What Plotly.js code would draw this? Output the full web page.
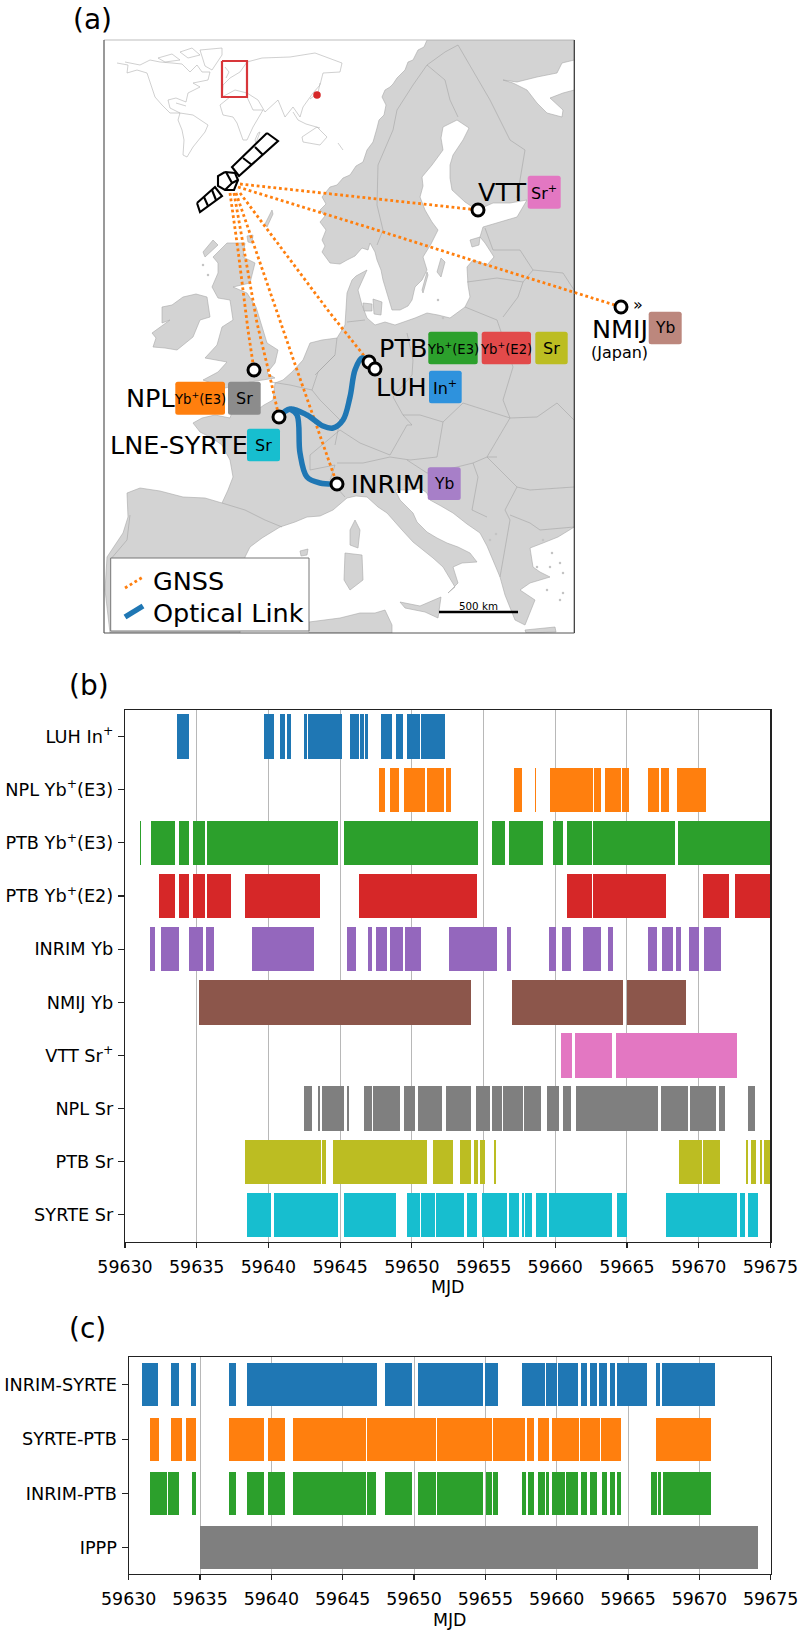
<!DOCTYPE html>
<html><head><meta charset="utf-8">
<script src="https://cdn.plot.ly/plotly-3.0.1.min.js"></script>
<style>html,body{margin:0;padding:0;background:#fff}#c{width:800px;height:1635px}</style>
</head><body><div id="c"></div>
<script>
const MJD0 = 59630;
const xTicks = [59630,59635,59640,59645,59650,59655,59660,59665,59670,59675];
const clockNames = ['LUH In<sup>+</sup>','NPL Yb<sup>+</sup>(E3)','PTB Yb<sup>+</sup>(E3)','PTB Yb<sup>+</sup>(E2)','INRIM Yb','NMIJ Yb','VTT Sr<sup>+</sup>','NPL Sr','PTB Sr','SYRTE Sr'];
const clockColors = ['#1f77b4','#ff7f0e','#2ca02c','#d62728','#9467bd','#8c564b','#e377c2','#7f7f7f','#bcbd22','#17becf'];
// uptime intervals, days after MJD 59630
const luhIn = [[3.65,4.25],[4.28,4.49],[9.71,10.39],[10.83,11.18],[11.29,11.60],[12.46,12.69],[12.76,15.13],[15.71,16.29],[16.38,16.66],[16.73,16.96],[17.85,18.64],[18.92,19.41],[19.66,20.59],[20.63,22.31]];
const nplYb = [[17.73,18.13],[18.48,19.10],[19.45,20.92],[21.03,22.22],[22.40,22.75],[27.10,27.66],[28.56,28.66],[29.63,32.65],[32.70,33.19],[33.47,34.56],[34.65,35.12],[36.49,37.21],[37.39,37.93],[38.49,40.48]];
const ptbYbE3 = [[1.02,1.12],[1.84,3.46],[3.74,4.48],[4.74,5.58],[5.74,14.85],[15.29,24.635],[25.56,26.47],[26.77,29.12],[29.84,30.56],[30.84,32.58],[32.63,38.35],[38.58,45]];
const ptbYbE2 = [[2.39,3.46],[3.74,4.48],[4.74,5.58],[5.74,7.39],[8.37,13.60],[16.29,24.57],[30.84,32.58],[32.65,37.74],[40.30,42.09],[42.55,45]];
const inrimYb = [[1.74,2.09],[2.49,3.76],[4.49,5.46],[5.62,6.20],[8.83,13.18],[15.45,16.13],[16.94,17.22],[17.48,18.29],[18.48,19.41],[19.50,20.66],[22.57,25.94],[26.61,26.91],[29.56,30.05],[30.49,31.12],[31.96,33.21],[33.68,34.00],[36.49,37.11],[37.46,38.23],[38.39,38.74],[39.35,40.02],[40.39,41.55]];
const nmijYb = [[5.14,24.12],[27.00,34.74],[35.02,39.14]];
const vttSr = [[30.37,31.19],[31.40,33.95],[34.21,42.65]];
const nplSr = [[12.46,13.06],[13.48,13.60],[13.73,15.25],[15.45,15.59],[16.66,17.22],[17.29,19.20],[19.47,20.20],[20.40,22.12],[22.40,24.15],[24.47,25.47],[25.59,26.29],[26.38,27.73],[27.82,29.03],[29.45,30.28],[30.51,31.07],[31.42,37.14],[37.37,39.28],[39.39,41.20],[41.39,41.81],[43.46,43.90]];
const ptbSr = [[8.37,13.68],[13.74,14.03],[14.53,21.05],[21.46,22.86],[23.36,24.13],[24.36,24.60],[24.77,25.12],[25.74,25.86],[38.63,40.21],[40.30,41.47],[43.29,43.44],[43.67,43.97],[44.26,44.44],[44.55,45]];
const syrteSr = [[8.54,10.21],[10.39,14.85],[15.29,17.26],[17.29,18.87],[19.67,20.19],[20.25,20.58],[20.63,21.60],[21.66,23.66],[23.83,24.57],[24.86,26.62],[26.74,27.44],[27.68,27.80],[27.88,28.38],[28.65,29.41],[29.53,33.99],[34.28,35.02],[37.75,42.65],[42.85,43.21],[43.47,44.12]];
const clockIntervals = [luhIn,nplYb,ptbYbE3,ptbYbE2,inrimYb,nmijYb,vttSr,nplSr,ptbSr,syrteSr];

const linkNames = ['INRIM-SYRTE','SYRTE-PTB','INRIM-PTB','IPPP'];
const linkColors = ['#1f77b4','#ff7f0e','#2ca02c','#7f7f7f'];
const inrimSyrte = [[0.94,2.06],[2.98,3.54],[4.36,4.75],[7.02,7.49],[8.29,17.40],[17.96,19.88],[20.26,24.83],[24.98,25.92],[27.57,29.20],[29.25,30.02],[30.08,31.47],[31.67,32.09],[32.32,32.82],[32.94,33.56],[33.71,34.06],[34.24,36.33],[36.95,37.25],[37.36,41.08]];
const syrtePtb = [[1.50,2.09],[2.98,3.77],[4.04,4.75],[7.02,9.47],[9.76,10.97],[11.53,16.63],[16.69,17.72],[17.75,21.53],[21.62,25.48],[25.51,27.81],[27.93,28.40],[28.66,29.46],[29.67,31.55],[31.61,33.03],[33.12,34.53],[36.95,40.84]];
const inrimPtb = [[1.50,2.65],[2.74,3.54],[4.42,4.75],[7.02,7.49],[8.26,9.47],[9.73,10.97],[11.53,16.63],[16.69,17.34],[17.96,19.88],[20.26,21.53],[21.62,24.83],[25.01,25.48],[25.54,25.92],[27.57,27.87],[27.96,28.40],[28.66,29.19],[29.25,29.46],[29.64,30.61],[30.67,31.47],[31.67,32.09],[32.32,32.85],[33.15,33.56],[33.74,34.06],[34.24,34.53],[36.63,37.04],[37.13,37.34],[37.43,40.84]];
const ippp = [[5.0,44.09]];
const linkIntervals = [inrimSyrte,syrtePtb,inrimPtb,ippp];

// map outlines, in map units
const mainland = [[427,40],[424,47],[418,50],[413,60],[408,62],[405,70],[397,78],[393,84],[390,87],[385,90],[382,97],[386,105],[384,115],[379,120],[377,128],[375,136],[373,142],[367,150],[363,162],[356,166],[350,175],[343,178],[337,185],[330,187],[322,197],[326,204],[320,210],[325,216],[320,222],[326,230],[322,240],[325,246],[322,252],[330,263],[340,264],[347,260],[355,256],[362,248],[368,250],[370,243],[375,252],[377,260],[381,270],[383,280],[386,290],[388,297],[392,310],[400,310],[408,306],[412,300],[415,287],[422,280],[427,270],[423,257],[431,244],[438,230],[432,222],[425,210],[420,197],[423,186],[422,177],[432,165],[443,150],[441,138],[443,127],[457,120],[469,128],[463,140],[453,155],[450,165],[450,178],[452,190],[465,202],[477,210],[493,203],[510,203],[527,200],[517,217],[500,222],[483,227],[480,237],[485,243],[494,257],[487,265],[473,260],[467,267],[468,285],[470,297],[465,307],[450,318],[438,315],[427,313],[415,318],[403,322],[395,325],[385,322],[375,325],[367,318],[362,305],[358,290],[367,270],[356,276],[352,280],[347,293],[346,310],[345,325],[337,338],[322,340],[310,343],[306,352],[303,360],[292,372],[283,380],[275,383],[273,400],[264,405],[257,410],[245,410],[232,412],[230,418],[215,415],[202,418],[193,423],[200,432],[212,438],[222,445],[230,460],[233,477],[228,490],[222,503],[205,498],[183,497],[160,491],[140,488],[127,493],[128,517],[123,533],[115,545],[107,557],[105,590],[110,633],[240,633],[245,557],[250,547],[262,538],[280,527],[295,522],[307,517],[320,516],[333,510],[347,498],[356,496],[367,497],[378,507],[387,513],[402,530],[413,542],[423,550],[433,558],[443,567],[455,587],[448,593],[458,583],[453,567],[462,563],[477,562],[470,553],[458,547],[447,543],[437,538],[427,532],[417,522],[413,513],[400,500],[395,490],[410,490],[420,488],[427,493],[430,500],[441,506],[453,513],[467,524],[480,533],[487,546],[493,560],[500,577],[505,595],[515,620],[525,625],[535,600],[520,590],[530,583],[550,577],[540,572],[533,567],[530,548],[543,543],[558,537],[574.3,527],[574.3,40]];
const whiteSea = [[503,80],[517,82],[537,77],[557,73],[562,63],[574.3,60],[574.3,90],[563,93],[550,98],[563,110],[562,117],[547,113],[537,103],[527,90],[513,83]];
const greatBritain = [[227,243],[245,243],[243,257],[255,263],[250,283],[233,287],[247,293],[256,307],[260,320],[267,343],[278,350],[275,363],[267,373],[275,378],[250,382],[225,388],[203,380],[218,372],[227,362],[205,358],[217,345],[222,327],[233,320],[230,300],[218,298],[212,287],[218,273],[218,263],[213,257],[220,250]];
const ireland = [[162,307],[172,305],[183,297],[196,294],[207,297],[210,317],[200,320],[193,337],[177,350],[165,348],[153,347],[156,338],[152,333],[162,326],[170,320],[162,323]];
const corsica = [[355,520],[360,530],[358,548],[350,545],[350,530]];
const sardinia = [[345,553],[362,555],[363,580],[350,590],[344,580]];
const sicily = [[400,602],[420,606],[441,597],[438,618],[425,612],[405,608]];
const northAfrica = [[309,622],[340,618],[360,613],[375,613],[385,610],[392,625],[392,633],[309,633]];
const funen = [[363,303],[372,304],[372,311],[364,311]];
const zealand = [[373,299],[382,302],[381,315],[374,314]];
const gotland = [[441,258],[445,262],[441,277],[437,272]];
const oland = [[427,272],[428,275],[423,293],[422,290]];
const saaremaa = [[470,240],[480,237],[479,245],[472,247]];
const shetland = [[272,210],[273,214],[267,227],[265,224]];
const orkney = [[247,236],[253,235],[252,243],[248,242]];
const hebrides = [[213,240],[218,245],[205,257],[203,252]];
const mallorca = [[300,551],[308,549],[307,555],[301,556]];
const crete = [[525,630],[555,627],[556,632],[526,633]];
const landParts = [mainland,greatBritain,ireland,corsica,sardinia,sicily,northAfrica,funen,zealand,gotland,oland,saaremaa,shetland,orkney,hebrides,mallorca,crete];
const smallIslands = [[543,540],[552,553],[560,563],[563,573],[550,567],[537,567],[547,590],[563,593],[560,600],[443,318],[438,300],[203,265],[208,275],[496,534],[490,540]];
const borders = [
 [[427,65],[413,85],[397,110],[393,130],[378,165],[377,205],[383,230],[377,245]],
 [[427,65],[445,80],[450,100],[458,117]],[[427,65],[445,52],[458,45]],
 [[458,45],[475,75],[490,100],[510,140],[525,150],[520,180],[517,198]],
 [[485,228],[493,250],[520,250],[533,270],[523,282]],[[467,282],[497,278],[523,282],[518,297],[503,317]],
 [[533,270],[563,273],[574,290]],[[465,307],[497,320],[513,367],[503,400],[510,418]],
 [[407,333],[413,360],[412,375],[393,397],[403,415],[420,415],[443,422],[463,403],[510,418]],
 [[510,418],[537,417],[557,403],[574,420]],[[510,418],[503,430],[490,453],[487,457]],
 [[443,422],[437,457]],[[403,415],[412,425],[407,425],[390,455],[360,443]],
 [[337,463],[363,463],[390,457],[410,460],[437,457]],[[407,460],[427,473],[457,467],[473,463],[487,457],[497,457]],
 [[487,457],[517,487],[530,490],[574,487]],[[473,463],[478,477],[472,510],[487,517]],[[517,487],[505,510],[510,520],[500,577]],
 [[510,515],[530,523],[540,530],[574,527]],[[271,382],[290,385],[312,390],[320,400],[340,420],[335,445]],
 [[340,430],[310,455],[310,470],[335,465],[330,480],[345,497]],[[360,443],[340,430]],[[222,503],[245,510],[265,520],[282,527]],
 [[130,515],[127,540],[110,560]],[[337,338],[335,355],[315,375]],[[347,322],[365,320]],[[312,390],[318,372],[335,355]]];
// world inset outlines
const insetNorthAmerica = [[117,63],[128,65],[127,73],[137,70],[147,73],[152,87],[155,97],[162,105],[170,113],[180,113],[170,108],[168,100],[176,98],[186,102],[188,93],[200,87],[193,83],[208,80],[210,72],[202,72],[197,65],[190,72],[182,64],[172,63],[160,62],[150,60],[140,65],[125,62]];
const insetArctic = [[158,58],[172,54],[180,60],[165,62],[158,58]];
const insetArctic2 = [[180,52],[192,48],[200,55],[188,58],[180,52]];
const insetGreenland = [[200,50],[222,48],[222,55],[212,70],[205,66],[200,50]];
const insetCuba = [[176,103],[186,106]];
const insetSouthAmerica = [[180,113],[193,115],[208,125],[205,132],[193,147],[187,157],[183,155],[184,140],[182,130],[178,120],[180,113]];
const insetAfrica = [[220,105],[230,97],[247,97],[253,110],[263,110],[253,127],[247,140],[243,140],[237,123],[233,117],[223,115],[220,105]];
const insetEurasia = [[222,97],[223,85],[230,78],[240,72],[247,62],[262,58],[290,57],[315,53],[342,63],[340,72],[323,73],[320,85],[313,93],[303,107],[300,117],[293,107],[285,117],[278,100],[265,112],[258,100],[247,93],[235,90],[222,97]];
const insetAustralia = [[302,137],[317,127],[327,137],[320,145],[303,142],[302,137]];
const insetJapan = [[320,83],[318,93],[310,99]];
const insetIndonesia = [[293,112],[298,120],[306,124],[320,128]];
const insetMadagascar = [[258,133],[260,132],[256,143],[255,140],[258,133]];
const insetUK = [[225,67],[229,72],[226,78]];
const insetNewZealand = [[338,143],[343,150]];
const insetLines = [insetNorthAmerica,insetArctic,insetArctic2,insetGreenland,insetCuba,insetSouthAmerica,insetAfrica,insetEurasia,insetAustralia,insetJapan,insetIndonesia,insetMadagascar,insetUK,insetNewZealand];

// GNSS links and fibre route
const gnssVtt = [[240,184],[323,193],[420,203],[478,210]];
const gnssNmij = [[238,187],[320,212],[380,231],[487,265],[573,292],[621,307]];
const gnssNpl = [[230,193],[238,250],[248,330],[254,370]];
const gnssSyrte = [[234,193],[257,323],[270,377],[279,417]];
const gnssInrim = [[236,193],[282,327],[297,370],[337,484]];
const gnssPtb = [[240,193],[330,313],[369,362]];
const gnssLinks = [gnssVtt,gnssNmij,gnssNpl,gnssSyrte,gnssInrim,gnssPtb];
const fibreNorth = [[279,417],[290,409],[307,415],[323,426],[333,428],[343,420],[350,397],[355,370],[362,358],[369,362]];
const fibreSouth = [[290,409],[297,415],[300,453],[307,477],[320,483],[337,484]];
const siteMarkers = [[254,370],[279,417],[337,484],[369,362],[375,369],[478,210],[621,307]];
// satellite glyph
const satUpper = [[267,133],[278,141],[239,176],[232,167],[267,133]];
const satUpperRibs = [[[255,147],[263,155]],[[243,158],[252,165]]];
const satLower = [[197,203],[215,187],[222,196],[200,212],[197,203]];
const satLowerRibs = [[[204,197],[208,206]],[[212,190],[216,200]]];
const satBody = [[225,172],[235,173],[238,180],[234,190],[225,190],[218,186],[218,176],[225,172]];
const satBodyInner = [[226,172],[232,183],[238,180],[232,183],[225,190]];

const px = (v)=>v.map(p=>p[0]), py=(v)=>v.map(p=>p[1]);
const W=800,H=1635;
const dx=(a,b)=>[a/W,b/W], dy=(top,bot)=>[1-bot/H,1-top/H];
const traces=[];
// map
landParts.forEach(p=>{const q=p.concat([p[0]]);traces.push({type:'scatter',mode:'lines',x:px(q),y:py(q),fill:'toself',fillcolor:'#d3d3d3',line:{color:'#a8a8a8',width:0.6},xaxis:'x',yaxis:'y',hoverinfo:'skip'});});
{const q=whiteSea.concat([whiteSea[0]]);traces.push({type:'scatter',mode:'lines',x:px(q),y:py(q),fill:'toself',fillcolor:'#fff',line:{color:'#a8a8a8',width:0.6},xaxis:'x',yaxis:'y',hoverinfo:'skip'});}
traces.push({type:'scatter',mode:'markers',x:px(smallIslands),y:py(smallIslands),marker:{color:'#c4c4c4',size:2.5},xaxis:'x',yaxis:'y',hoverinfo:'skip'});
borders.forEach(p=>traces.push({type:'scatter',mode:'lines',x:px(p),y:py(p),line:{color:'#a4a4a4',width:0.6},xaxis:'x',yaxis:'y',hoverinfo:'skip'}));
insetLines.forEach(p=>traces.push({type:'scatter',mode:'lines',x:px(p),y:py(p),line:{color:'#b0b0b0',width:0.6,shape:'linear'},xaxis:'x',yaxis:'y',hoverinfo:'skip'}));
// bars
function addBars(names,colors,intervals,ax,ay,w){
  names.forEach((n,i)=>{const iv=intervals[i];
    traces.push({type:'bar',orientation:'h',y:iv.map(()=>n),base:iv.map(s=>MJD0+s[0]),x:iv.map(s=>s[1]-s[0]),width:iv.map(()=>w),marker:{color:colors[i],line:{width:0}},xaxis:ax,yaxis:ay,hoverinfo:'skip'});});
}
addBars(clockNames,clockColors,clockIntervals,'x2','y2',0.835);
addBars(linkNames,linkColors,linkIntervals,'x3','y3',0.79);
// overlay
const ov=(o)=>Object.assign({type:'scatter',xaxis:'x4',yaxis:'y4',hoverinfo:'skip'},o);
const redRect=[[222,61],[247,61],[247,97],[222,97],[222,61]];
traces.push(ov({mode:'lines',x:px(redRect),y:py(redRect),line:{color:'#d8363a',width:2.2}}));
traces.push(ov({mode:'markers',x:[317],y:[95],marker:{color:'#d62728',size:7.5}}));
const dots={color:'#ff7f0e',width:2.8,dash:'2.8px,2.8px'};
gnssLinks.forEach(p=>traces.push(ov({mode:'lines',x:px(p),y:py(p),line:dots})));
[fibreNorth,fibreSouth].forEach(p=>traces.push(ov({mode:'lines',x:px(p),y:py(p),line:{color:'#1f77b4',width:5.5,shape:'spline',smoothing:1}})));
[satUpper,satLower,satBody,satBodyInner].concat(satUpperRibs,satLowerRibs).forEach(p=>traces.push(ov({mode:'lines',x:px(p),y:py(p),line:{color:'#000',width:2.1}})));
traces.push(ov({mode:'markers',x:px(siteMarkers),y:py(siteMarkers),marker:{color:'#fff',size:12,line:{color:'#000',width:3}}}));
// legend
const legBox=[[110.7,558],[309,558],[309,631],[110.7,631],[110.7,558]];
traces.push(ov({mode:'lines',x:px(legBox),y:py(legBox),fill:'toself',fillcolor:'#fff',line:{color:'#777',width:1}}));
traces.push(ov({mode:'lines',x:[125,143],y:[588,577],line:dots}));
traces.push(ov({mode:'lines',x:[125,143],y:[617,606],line:{color:'#1f77b4',width:5.5}}));
traces.push(ov({mode:'lines',x:[439,518],y:[612,612],line:{color:'#000',width:2.5}}));

function rr(x0,y0,x1,y1,r=2.5){return `M${x0+r},${y0} L${x1-r},${y0} Q${x1},${y0} ${x1},${y0+r} L${x1},${y1-r} Q${x1},${y1} ${x1-r},${y1} L${x0+r},${y1} Q${x0},${y1} ${x0},${y1-r} L${x0},${y0+r} Q${x0},${y0} ${x0+r},${y0} Z`;}
const boxes=[
 [527.7,175.7,560.7,208.7,'#e377c2','Sr<sup>+</sup>',16],
 [648.7,311.7,681.7,344.3,'#bc877d','Yb',15.5],
 [428.3,331.7,477.7,364.3,'#2ca02c','Yb<sup>+</sup>(E3)',13.2],
 [481.7,331.7,531,364.3,'#e24a4a','Yb<sup>+</sup>(E2)',13.2],
 [535.3,331.7,567.7,364.3,'#bcbd22','Sr',16],
 [429,370.7,461.7,403.3,'#2e92dd','In<sup>+</sup>',16],
 [427.7,467.3,460.7,500,'#a77fc8','Yb',15.5],
 [175.3,381.7,225,414.7,'#ff7f0e','Yb<sup>+</sup>(E3)',13.2],
 [228,381.7,260.7,414.7,'#8c8c8c','Sr',16],
 [247,428.7,280,461.3,'#17becf','Sr',16]];
const shapes=boxes.map(b=>({type:'path',xref:'x4',yref:'y4',path:rr(b[0],b[1],b[2],b[3]),fillcolor:b[4],line:{width:0},layer:'above'}));
// map frame
[[104,40,574.3,40,'#bdbdbd'],[104,40,104,633,'#555'],[574.3,40,574.3,633,'#333'],[104,633,574.3,633,'#555']].forEach(s=>shapes.push({type:'line',xref:'x4',yref:'y4',x0:s[0],y0:s[1],x1:s[2],y1:s[3],line:{color:s[4],width:1.2},layer:'below'}));
const ann=(t,x,y,size,anchor='left')=>({text:t,x:x,y:y,xref:'x4',yref:'y4',showarrow:false,xanchor:anchor,yanchor:'middle',align:anchor,font:{family:'DejaVu Sans',size:size,color:'#000'}});
const annotations=boxes.map(b=>ann(b[5],(b[0]+b[2])/2,(b[1]+b[3])/2,b[6],'center'));
annotations.push(
 ann('VTT',476,192,25.5),ann('NMIJ',590,329,25.5),ann('(Japan)',589,352,16),ann('»',631,304,16),
 ann('PTB',377,348,25.5),ann('LUH',374,387,25.5),ann('NPL',124,398,25.5),ann('LNE-SYRTE',108,445,25.5),ann('INRIM',349,484,25.5),
 ann('GNSS',151,581,25.5),ann('Optical Link',151,613,25.5),ann('500 km',478.5,606,10.3,'center'),
 ann('(a)',71,19,28),ann('(b)',67,685,28),ann('(c)',67,1328,28));

const tf={family:'DejaVu Sans',size:17.4,color:'#000'};
const xax=(dom,anchor)=>({domain:dom,anchor:anchor,range:[59630,59675],tickmode:'array',tickvals:xTicks,ticktext:xTicks.map(String),tickfont:tf,ticks:'outside',ticklen:5,tickwidth:1.1,tickcolor:'#222',ticklabelstandoff:4,showline:true,mirror:true,linecolor:'#222',linewidth:1.2,showgrid:true,gridcolor:'#b8b8b8',gridwidth:1,zeroline:false,title:{text:'MJD',font:tf,standoff:5}});
const yax=(dom,anchor,names,off=0)=>({domain:dom,anchor:anchor,type:'category',categoryorder:'array',categoryarray:names,range:[names.length-0.5+off,-0.5+off],tickfont:Object.assign({},tf,{size:17.7}),ticks:'outside',ticklen:6,tickwidth:1.1,tickcolor:'#222',ticklabelstandoff:1,showline:true,mirror:true,linecolor:'#222',linewidth:1.2,showgrid:false,zeroline:false});
const layout={width:W,height:H,autosize:false,margin:{l:0,r:0,t:0,b:0},paper_bgcolor:'#fff',plot_bgcolor:'rgba(0,0,0,0)',showlegend:false,barmode:'overlay',bargap:0,hovermode:false,
 xaxis:{domain:dx(104,574.3),range:[104,574.3],anchor:'y',visible:false},
 yaxis:{domain:dy(40,633),range:[633,40],anchor:'x',visible:false},
 xaxis2:xax(dx(125,770.4),'y2'),yaxis2:yax(dy(710,1241.5),'x2',clockNames),
 xaxis3:xax(dx(128.7,770.7),'y3'),yaxis3:yax(dy(1356.7,1574),'x3',linkNames,-0.02),
 xaxis4:{domain:[0,1],range:[0,W],anchor:'y4',visible:false},
 yaxis4:{domain:[0,1],range:[H,0],anchor:'x4',visible:false},
 shapes:shapes,annotations:annotations,font:{family:'DejaVu Sans'}};
Plotly.newPlot('c',traces,layout,{displayModeBar:false,staticPlot:true});
</script></body></html>
